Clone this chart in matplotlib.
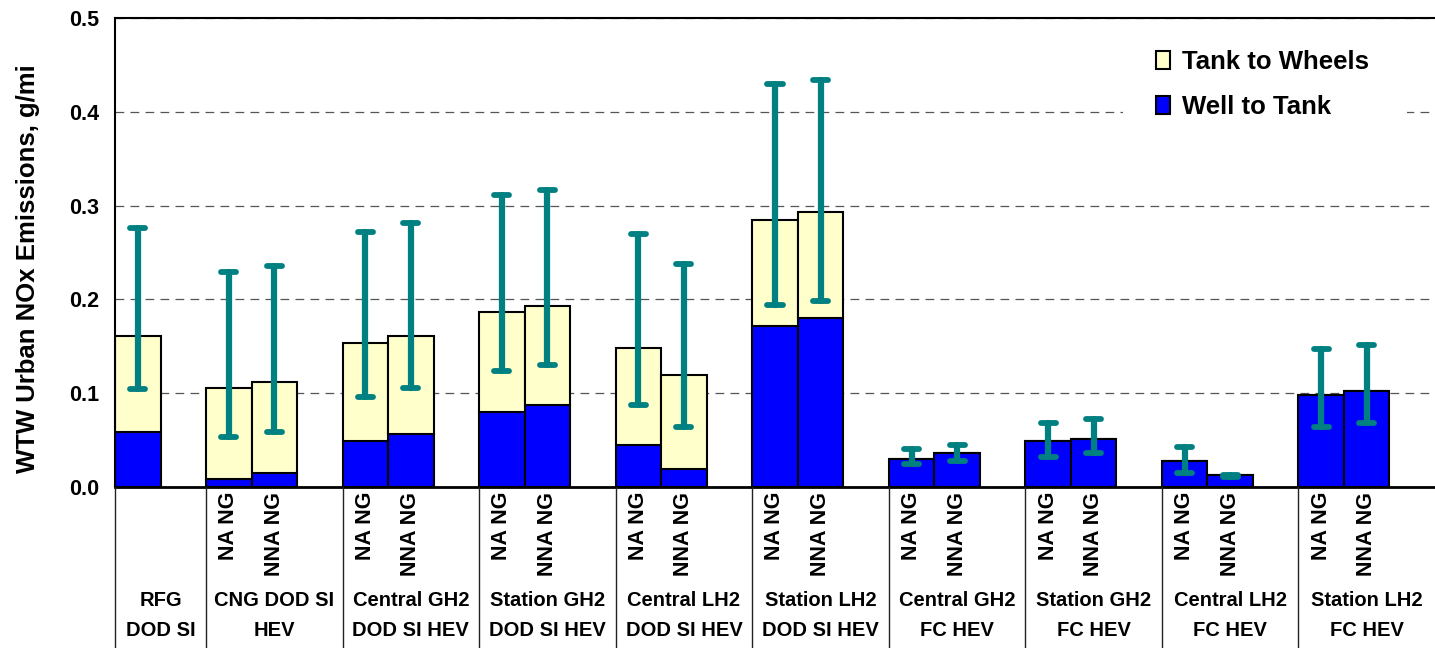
import matplotlib
matplotlib.use("Agg")
import matplotlib.pyplot as plt
import matplotlib.transforms as mtransforms
from matplotlib.patches import Patch, Rectangle
from matplotlib.lines import Line2D

plt.rcParams['font.family'] = ['Liberation Sans', 'DejaVu Sans']
plt.rcParams['font.weight'] = 'bold'

# ---------------- data ----------------
group_labels = ['RFG\nDOD SI', 'CNG DOD SI\nHEV', 'Central GH2\nDOD SI HEV',
                'Station GH2\nDOD SI HEV', 'Central LH2\nDOD SI HEV',
                'Station LH2\nDOD SI HEV', 'Central GH2\nFC HEV',
                'Station GH2\nFC HEV', 'Central LH2\nFC HEV', 'Station LH2\nFC HEV']
group_sizes = [1, 2, 2, 2, 2, 2, 2, 2, 2, 2]
sub_labels = ['', 'NA NG', 'NNA NG', 'NA NG', 'NNA NG', 'NA NG', 'NNA NG',
              'NA NG', 'NNA NG', 'NA NG', 'NNA NG', 'NA NG', 'NNA NG',
              'NA NG', 'NNA NG', 'NA NG', 'NNA NG', 'NA NG', 'NNA NG']
well_to_tank = [0.059, 0.008, 0.015, 0.049, 0.057, 0.080, 0.087, 0.045, 0.019,
                0.172, 0.180, 0.030, 0.036, 0.049, 0.051, 0.028, 0.013, 0.098, 0.102]
tank_to_wheels = [0.102, 0.098, 0.097, 0.104, 0.104, 0.107, 0.106, 0.103, 0.100,
                  0.113, 0.113, 0.0, 0.0, 0.0, 0.0, 0.0, 0.0, 0.0, 0.0]
err_high = [0.276, 0.229, 0.236, 0.272, 0.281, 0.311, 0.317, 0.270, 0.238,
            0.430, 0.434, 0.040, 0.0445, 0.068, 0.072, 0.043, 0.0125, 0.147, 0.151]
err_low = [0.104, 0.053, 0.059, 0.096, 0.106, 0.124, 0.130, 0.087, 0.064,
           0.194, 0.198, 0.024, 0.028, 0.032, 0.036, 0.015, 0.011, 0.064, 0.068]
y_ticks = [0.0, 0.1, 0.2, 0.3, 0.4, 0.5]
y_tick_labels = ['0.0', '0.1', '0.2', '0.3', '0.4', '0.5']
legend_labels = ['Tank to Wheels', 'Well to Tank']

WTT_COLOR = '#0000FF'
TTW_COLOR = '#FFFFCC'
ERR_COLOR = '#008080'

# ---------------- layout: one empty slot after each group ----------------
positions = []
group_edges = []
slot = 0
for n in group_sizes:
    group_edges.append((slot - 0.5, slot + n + 0.5))
    positions.extend(range(slot, slot + n))
    slot += n + 1
n_slots = slot

W, H = 1435, 648
fig = plt.figure(figsize=(W / 100, H / 100), dpi=100)
ax_left, ax_right, ax_top, ax_bottom = 115, 1435, 18, 487
ax = fig.add_axes([ax_left / W, 1 - ax_bottom / H, (ax_right - ax_left) / W,
                   (ax_bottom - ax_top) / H])
ax.set_xlim(-0.5, n_slots - 0.5)
ax.set_ylim(0, 0.5)
ax.set_axisbelow(True)

# bars
ax.bar(positions, well_to_tank, width=1.0, color=WTT_COLOR, edgecolor='black',
       linewidth=1.5, zorder=2)
ax.bar(positions, tank_to_wheels, bottom=well_to_tank, width=1.0, color=TTW_COLOR,
       edgecolor='black', linewidth=1.5, zorder=2)

# error bars
vl = ax.vlines(positions, err_low, err_high, color=ERR_COLOR, linewidth=4.5, zorder=3)
vl.set_capstyle('round')
cap_half = 0.165
for vals in (err_low, err_high):
    hl = ax.hlines(vals, [p - cap_half for p in positions],
                   [p + cap_half for p in positions], color=ERR_COLOR,
                   linewidth=4.2, zorder=3)
    hl.set_capstyle('round')

# axes styling
ax.set_xticks([])
ax.set_yticks(y_ticks)
ax.set_yticklabels(y_tick_labels, fontsize=15.5, fontweight='bold')
ax.tick_params(axis='y', length=0, pad=11.5)
ax.yaxis.grid(True, linestyle=(0, (7, 5)), color='#555555', linewidth=0.9)
ax.spines['right'].set_visible(False)
ax.spines['left'].set_linewidth(1.5)
ax.spines['top'].set_linewidth(1.5)
ax.spines['bottom'].set_linewidth(2.0)

fig.text(28 / W, 1 - 269 / H, 'WTW Urban NOx Emissions, g/mi', rotation=90,
         ha='center', va='center', fontsize=18.5, fontweight='bold')

# white box behind legend (interrupts gridline)
ax.add_patch(Rectangle((1123 / W, 1 - 128 / H), (1407 - 1123) / W, 90 / H,
                       transform=fig.transFigure, facecolor='white',
                       edgecolor='none', zorder=0.8))
handles = [Patch(facecolor=TTW_COLOR, edgecolor='black', linewidth=1.5),
           Patch(facecolor=WTT_COLOR, edgecolor='black', linewidth=1.5)]
leg = ax.legend(handles, legend_labels, loc='upper left',
                bbox_to_anchor=(1156 / W, 1 - 50 / H), bbox_transform=fig.transFigure,
                frameon=False, borderpad=0, borderaxespad=0,
                prop={'size': 18.5, 'weight': 'bold'}, handlelength=0.55,
                handleheight=0.7, handletextpad=0.45, labelspacing=0.8)

# category table below axis
blend = mtransforms.blended_transform_factory(ax.transData, fig.transFigure)
for (x0, x1) in group_edges:
    fig.add_artist(Line2D([x0, x0], [1 - ax_bottom / H, 0], transform=blend,
                          color='#222222', linewidth=1.0))
for p, lab in zip(positions, sub_labels):
    if lab:
        fig.text(p, 1 - 492 / H, lab, transform=blend, rotation=90, ha='center',
                 va='top', fontsize=15.5, fontweight='bold')
line_y = [600.5, 630]
for (x0, x1), lab in zip(group_edges, group_labels):
    xc = (x0 + x1) / 2
    for ly, part in zip(line_y, lab.split('\n')):
        fig.text(xc, 1 - ly / H, part, transform=blend, ha='center', va='center',
                 fontsize=14.5, fontweight='bold')

fig.savefig('out.png', dpi=100)
